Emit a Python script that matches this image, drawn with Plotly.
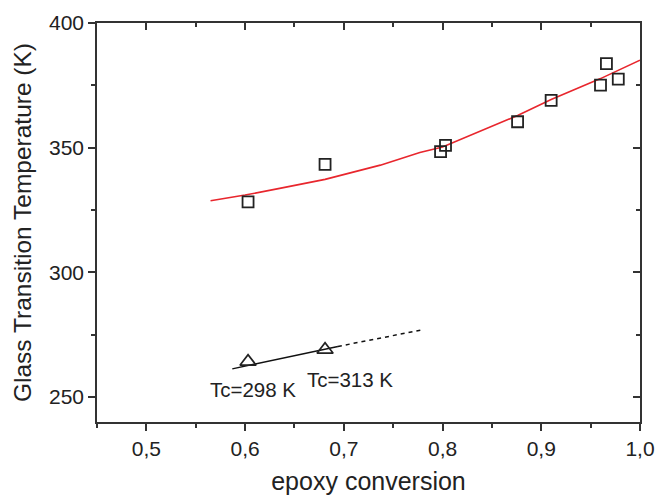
import plotly.graph_objects as go

# ---- data ----
sq_x = [0.603, 0.681, 0.798, 0.803, 0.876, 0.910, 0.960, 0.966, 0.978]
sq_y = [328.3, 343.3, 348.4, 350.9, 360.4, 369.0, 375.1, 383.7, 377.5]

fit_x = [0.565, 0.600, 0.635, 0.681, 0.737, 0.777, 0.800, 0.876, 0.910, 0.960, 1.000]
fit_y = [328.7, 331.0, 333.7, 337.3, 343.0, 348.1, 350.3, 362.9, 369.3, 377.7, 385.1]

tri_x = [0.603, 0.681]
tri_y = [264.2, 269.0]

solid_x = [0.587, 0.694]
solid_y = [261.3, 270.3]
dash_x = [0.694, 0.780]
dash_y = [270.3, 277.0]

tc_labels = ["Tc=298 K", "Tc=313 K"]
tc_label_x = [0.608, 0.706]
tc_label_y = [252.9, 256.9]

x_range = [0.45, 1.0]
y_range = [240, 400]

FONT = "Arial, Liberation Sans, sans-serif"
AX = "#333333"

fig = go.Figure()
fig.add_trace(go.Scatter(x=fit_x, y=fit_y, mode="lines",
                         line=dict(color="#e8262d", width=1.6), showlegend=False))
fig.add_trace(go.Scatter(x=sq_x, y=sq_y, mode="markers",
                         marker=dict(symbol="square-open", size=11, color="#222222",
                                     line=dict(width=1.8, color="#222222")),
                         showlegend=False))
fig.add_trace(go.Scatter(x=solid_x, y=solid_y, mode="lines",
                         line=dict(color="#111111", width=1.5), showlegend=False))
fig.add_trace(go.Scatter(x=dash_x, y=dash_y, mode="lines",
                         line=dict(color="#111111", width=1.5, dash="4px,4px"), showlegend=False))
fig.add_trace(go.Scatter(x=tri_x, y=tri_y, mode="markers",
                         marker=dict(symbol="triangle-up-open", size=14, color="#222222",
                                     line=dict(width=1.7, color="#222222")),
                         showlegend=False))
# empty trace to anchor mirrored (top/right) axes
fig.add_trace(go.Scatter(x=[], y=[], xaxis="x2", yaxis="y2", showlegend=False, hoverinfo="skip"))

for t, xx, yy in zip(tc_labels, tc_label_x, tc_label_y):
    fig.add_annotation(x=xx, y=yy, text=t, showarrow=False,
                       font=dict(family=FONT, size=20.5, color="#222222"))

common = dict(showline=True, linecolor=AX, linewidth=1.5, showgrid=False, zeroline=False,
              tickcolor=AX, tickwidth=1.5, automargin=False)

fig.update_layout(
    width=656, height=495,
    margin=dict(l=97, r=16, t=23, b=73),
    paper_bgcolor="white", plot_bgcolor="white",
    separators=", ",
    font=dict(family=FONT, color="#222222"),
    xaxis=dict(range=x_range, tick0=0.5, dtick=0.1, tickformat=".1f", ticks="outside", ticklen=7,
               minor=dict(ticks="outside", ticklen=4, dtick=0.05, tick0=0.45, tickcolor=AX, tickwidth=1.5),
               tickfont=dict(size=21, family=FONT, color="#222222"),
               title=dict(text="epoxy conversion", font=dict(size=25, family=FONT, color="#222222"),
                          standoff=15),
               **common),
    yaxis=dict(range=y_range, tick0=250, dtick=50, ticks="outside", ticklen=7,
               minor=dict(ticks="outside", ticklen=4, dtick=25, tick0=250, tickcolor=AX, tickwidth=1.5),
               tickfont=dict(size=21, family=FONT, color="#222222"),
               title=dict(text="Glass Transition Temperature (K)",
                          font=dict(size=24.5, family=FONT, color="#222222"), standoff=10),
               **common),
    xaxis2=dict(range=x_range, overlaying="x", side="top", tick0=0.5, dtick=0.1, ticks="inside",
                ticklen=7, showticklabels=False,
                minor=dict(ticks="inside", ticklen=4, dtick=0.05, tick0=0.45, tickcolor=AX, tickwidth=1.5),
                **common),
    yaxis2=dict(range=y_range, overlaying="y", side="right", tick0=250, dtick=50, ticks="inside",
                ticklen=7, showticklabels=False,
                minor=dict(ticks="inside", ticklen=4, dtick=25, tick0=250, tickcolor=AX, tickwidth=1.5),
                **common),
)

fig.write_html("out.html", config={"displayModeBar": False},
               post_script="document.body.style.margin='0';document.body.style.overflow='hidden';")
